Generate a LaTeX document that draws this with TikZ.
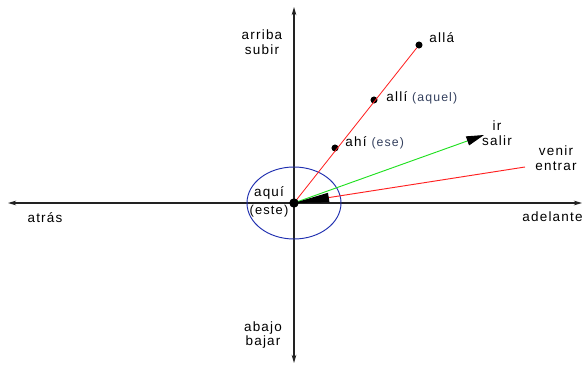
\documentclass[tikz,border=0pt]{standalone}
\usepackage{fontspec}
\setmainfont{Liberation Sans}[LetterSpace=9]
\usepackage{xcolor}
\usepackage{tikz}
\usetikzlibrary{arrows.meta}
\definecolor{axisgray}{HTML}{222222}
\definecolor{linered}{HTML}{FF2020}
\definecolor{linegreen}{HTML}{20E020}
\definecolor{ringblue}{HTML}{2030B0}
\definecolor{notegray}{HTML}{34405E}
\tikzset{axis/.style={axisgray,line width=0.9pt,-{Stealth[length=7pt,width=4pt]}},
  word/.style={font=\fontsize{11.5}{13.5}\selectfont,align=center,inner sep=1pt},
  spot/.style={circle,fill=black,inner sep=0pt,minimum size=6pt}}
\newcommand{\aside}[1]{\textcolor{notegray}{\fontsize{10.5}{12}\selectfont#1}}

\begin{document}
\begin{tikzpicture}[x=0.03cm,y=-0.03cm]
\useasboundingbox (0,0) rectangle (585,367);
\coordinate (o) at (294,203);
\coordinate (left) at (8,203); \coordinate (right) at (582,203); \coordinate (top) at (294,7); \coordinate (bottom) at (294,363);
\coordinate (irend) at (484,135); \coordinate (venirend) at (525,167);
\node[spot] (alla) at (419,45) {}; \node[spot] (alli) at (374,100) {}; \node[spot] (ahi) at (335,148) {};
% axes
\draw[axis] (o)--(left); \draw[axis] (o)--(right);
\draw[axis] (o)--(top); \draw[axis] (o)--(bottom);
% here
\draw[ringblue,line width=0.8pt] (o) ellipse [x radius=1.41cm,y radius=1.08cm];
\draw[linered,line width=0.7pt] (o)--(alla);
\draw[linegreen,line width=0.8pt,-{Triangle[length=15pt,width=8pt,color=black]}] (o)--(irend);
\draw[linered,line width=0.8pt,-{Triangle[length=30pt,width=8pt,color=black]}] (venirend)--(o);
\node[spot,minimum size=8pt] (here) at (o) {};
% labels
\node[word] (arriba) at (262,42) {arriba\\[-1pt]subir};
\node[word] (abajo) at (263,335) {abajo\\[-1pt]bajar};
\node[word] (atras) at (45,218) {atrás};
\node[word,anchor=east] (adelante) at (584,217) {adelante};
\node[word,anchor=west] (allalbl) at (428,38) {allá};
\node[word,anchor=west] (allilbl) at (385,98) {allí \aside{(aquel)}};
\node[word,anchor=west] (ahilbl) at (344,143) {ahí \aside{(ese)}};
\node[word] (irlbl) at (497,133) {ir\\[-1pt]salir};
\node[word] (venirlbl) at (556,158) {venir\\[-1pt]entrar};
\node[word] (aqui) at (269,202) {aquí\\[2pt]\fontsize{11}{13}\selectfont(este)};
\end{tikzpicture}
\end{document}
